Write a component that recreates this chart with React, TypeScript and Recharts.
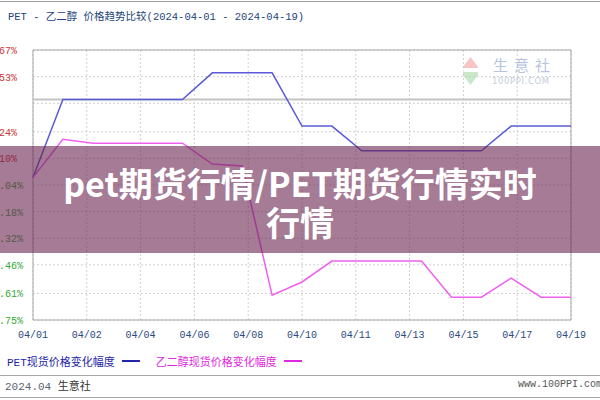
import { LineChart, Line, XAxis, YAxis, CartesianGrid, ReferenceLine, ReferenceArea } from 'recharts';

// 19 daily points, 04/01 .. 04/19
const petChange = [0, 0.41, 0.41, 0.41, 0.41, 0.41, 0.55, 0.55, 0.55, 0.27, 0.27, 0.14, 0.14, 0.14, 0.14, 0.14, 0.27, 0.27, 0.27];
const megChange = [0, 0.2, 0.18, 0.18, 0.18, 0.18, 0.07, 0.06, -0.62, -0.55, -0.44, -0.44, -0.44, -0.44, -0.63, -0.63, -0.53, -0.63, -0.63];

const xLabels = ['04/01', '04/02', '04/04', '04/06', '04/08', '04/10', '04/11', '04/13', '04/15', '04/17', '04/19'];
const yTicks = [0.67, 0.53, 0.39, 0.24, 0.1, -0.04, -0.18, -0.32, -0.46, -0.61, -0.75];
const yLabels = ['0.67%', '0.53%', '', '0.24%', '0.10%', '-0.04%', '-0.18%', '-0.32%', '-0.46%', '-0.61%', '-0.75%'];

const series = [
  { key: 'pet', name: 'PET现货价格变化幅度', color: '#5a5ad8', text: '#2424a8' },
  { key: 'meg', name: '乙二醇现货价格变化幅度', color: '#f060f0', text: '#e028e0' },
];

const lastIndex = petChange.length - 1;
const data = petChange.map((v, i) => ({ i, pet: v, meg: megChange[i] }));
const xTicks = xLabels.map((_, k) => (k * lastIndex) / (xLabels.length - 1));

const MONO = '"Liberation Mono", "Noto Sans CJK SC", monospace';

function YTick(props: any) {
  const { y, payload, index } = props;
  const label = yLabels[index];
  if (!label) return null;
  return (
    <text x={-13} y={y + 4} textAnchor="start" fontFamily={MONO} fontSize={10} fill={payload.value > 0 ? '#d03434' : '#34a834'}>
      {label}
    </text>
  );
}

export default function App() {
  return (
    <div style={{ position: 'fixed', left: 0, top: 0, width: 600, height: 400, background: '#fff', overflow: 'hidden' }}>
      <div style={{ position: 'absolute', left: 0, top: 1, width: 600, height: 1, background: '#a0a0a0' }} />
      <div style={{ position: 'absolute', left: 8, top: 8, fontFamily: MONO, fontSize: 10.5, color: '#23457a', whiteSpace: 'nowrap' }}>
        PET - 乙二醇 价格趋势比较(2024-04-01 - 2024-04-19)
      </div>

      <div style={{ position: 'absolute', left: 0, top: 0 }}>
        <LineChart width={600} height={350} data={data} margin={{ top: 50, right: 29, left: 0, bottom: 0 }}>
          <CartesianGrid stroke="#d0d0d0" strokeDasharray="2 2" />
          <XAxis
            type="number"
            dataKey="i"
            domain={[0, lastIndex]}
            ticks={xTicks}
            interval={0}
            tickFormatter={(_v: number, idx: number) => xLabels[idx]}
            tickLine={false}
            axisLine={false}
            tickMargin={5}
            height={30}
            tick={{ fontFamily: MONO, fontSize: 10, fill: '#2c4a80' }}
          />
          <YAxis
            type="number"
            domain={[-0.75, 0.67]}
            ticks={yTicks}
            interval={0}
            width={33}
            tickLine={false}
            axisLine={false}
            tick={<YTick />}
          />
          <ReferenceLine y={0.41} stroke="#c4c4c4" strokeWidth={2} />
          <ReferenceArea x1={0} x2={lastIndex} y1={-0.75} y2={0.67} fill="none" stroke="#a8a8a8" strokeWidth={1} />
          {series.map((s) => (
            <Line key={s.key} type="linear" dataKey={s.key} stroke={s.color} strokeWidth={1.5} dot={false} isAnimationActive={false} />
          ))}
        </LineChart>
      </div>

      {/* watermark */}
      <div style={{ position: 'absolute', left: 463, top: 57, width: 15, height: 28, background: 'linear-gradient(#f0a0a0 0 40%, #ffffff 40% 55%, #a8d8a8 55% 100%)', opacity: 0.6, clipPath: 'polygon(50% 0, 100% 35%, 100% 65%, 50% 100%, 0 65%, 0 35%)' }} />
      <div style={{ position: 'absolute', left: 493, top: 56, fontFamily: '"Noto Sans CJK SC"', fontSize: 15, lineHeight: '18px', color: '#b8c4de', letterSpacing: 6, whiteSpace: 'nowrap' }}>
        生意社
      </div>
      <div style={{ position: 'absolute', left: 492, top: 76, fontFamily: '"DejaVu Sans"', fontSize: 8.5, lineHeight: '10px', color: '#c4ccdc', letterSpacing: 0.6, whiteSpace: 'nowrap' }}>
        100PPI.COM
      </div>

      {/* legend */}
      <div style={{ position: 'absolute', left: 7, top: 353, display: 'flex', fontFamily: MONO, fontSize: 11, whiteSpace: 'nowrap' }}>
        {series.map((s) => (
          <div key={s.key} style={{ display: 'flex', alignItems: 'center', marginRight: 16, color: s.text }}>
            <span>{s.name}</span>
            <span style={{ display: 'inline-block', width: 18, height: 1.5, background: s.text, marginLeft: 7 }} />
          </div>
        ))}
      </div>

      {/* footer */}
      <div style={{ position: 'absolute', left: 0, top: 375, width: 600, height: 1, background: '#a8a8a8' }} />
      <div style={{ position: 'absolute', left: 5, top: 377, fontFamily: MONO, fontSize: 11, color: '#5a6470', whiteSpace: 'nowrap' }}>
        2024.04 <span style={{ color: '#333' }}>生意社</span>
      </div>
      <div style={{ position: 'absolute', left: 518, top: 379, fontFamily: MONO, fontSize: 10, color: '#555', whiteSpace: 'nowrap' }}>
        www.100PPI.com
      </div>
      <div style={{ position: 'absolute', left: 0, top: 397, width: 600, height: 1, background: '#a8a8a8' }} />

      {/* banner overlay */}
      <div
        style={{
          position: 'absolute',
          left: 0,
          top: 146,
          width: 600,
          height: 107,
          background: 'rgba(105, 35, 80, 0.6)',
          color: '#fff',
          fontFamily: '"Noto Sans CJK SC"',
          fontWeight: 700,
          fontSize: 34,
          lineHeight: '39px',
          textAlign: 'center',
          paddingTop: 17,
          boxSizing: 'border-box',
        }}
      >
        pet期货行情/PET期货行情实时
        <br />
        行情
      </div>
    </div>
  );
}
